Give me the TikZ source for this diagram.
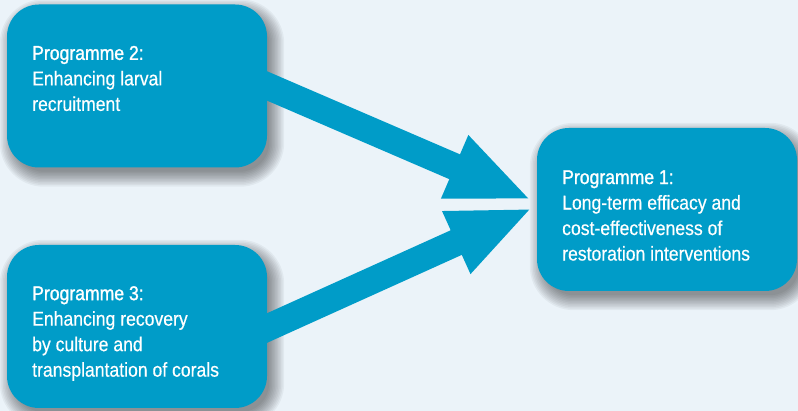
\documentclass[tikz,border=0pt]{standalone}
\usepackage{fontspec}
\setmainfont[FakeStretch=0.88,FakeBold=0.4]{Liberation Sans}
\newfontfamily\headfont[FakeStretch=0.88,FakeBold=1.2]{Liberation Sans}
\usetikzlibrary{arrows.meta}
\definecolor{bgblue}{RGB}{235,243,249}
\definecolor{boxblue}{RGB}{0,156,200}
\pgfdeclarelayer{bglayer}
\pgfdeclarelayer{shadowlayer}
\pgfsetlayers{bglayer,shadowlayer,main}
\newcommand\boxshadow[1]{%
  \foreach \e in {12,10.5,...,-3}{%
    \pgfmathsetmacro\rr{32+\e}%
    \fill[black, opacity=0.045, rounded corners=\rr pt]
      ([shift={(5pt-\e pt,-7pt-\e pt)}]#1.south west) rectangle
      ([shift={(5pt+\e pt,-7pt+\e pt)}]#1.north east);
  }}
\tikzset{
  progbox/.style={fill=boxblue, draw=none, rounded corners=32pt,
    minimum width=260pt, minimum height=163pt, inner sep=0pt},
  progtext/.style={anchor=west, align=left, inner sep=0pt, text=white,
    font=\fontsize{20}{25.5}\selectfont},
  bigarrow/.style={draw=boxblue, line width=27pt,
    -{Triangle[length=84pt, width=62pt]}}
}
\begin{document}
\begin{tikzpicture}[x=1pt, y=1pt]
\useasboundingbox (0,0) rectangle (798,411);
\begin{pgfonlayer}{bglayer}
\fill[bgblue] (0,0) rectangle (798,411);
\end{pgfonlayer}

\node[progbox] (b2) at (137,325) {};
\node[progbox] (b3) at (137,84.5) {};
\node[progbox] (b1) at (667,201.5) {};

\begin{pgfonlayer}{shadowlayer}
\boxshadow{b2}
\boxshadow{b3}
\boxshadow{b1}
\end{pgfonlayer}

\draw[bigarrow] ([xshift=-20pt,yshift=8.6pt]b2.east) -- ([xshift=-5pt,yshift=9.5pt]b1.west);
\draw[bigarrow] ([xshift=-20pt,yshift=-10.5pt]b3.east) -- ([xshift=-4pt,yshift=1.5pt]b1.west);

\node[progtext] (t2) at (32,332.5) {{\headfont Programme 2:}\\Enhancing larval\\recruitment};
\node[progtext] (t3) at (32,77.5) {{\headfont Programme 3:}\\Enhancing recovery\\by culture and\\transplantation of corals};
\node[progtext] (t1) at (562,195.5) {{\headfont Programme 1:}\\Long-term efficacy and\\cost-effectiveness of\\restoration interventions};
\end{tikzpicture}
\end{document}
